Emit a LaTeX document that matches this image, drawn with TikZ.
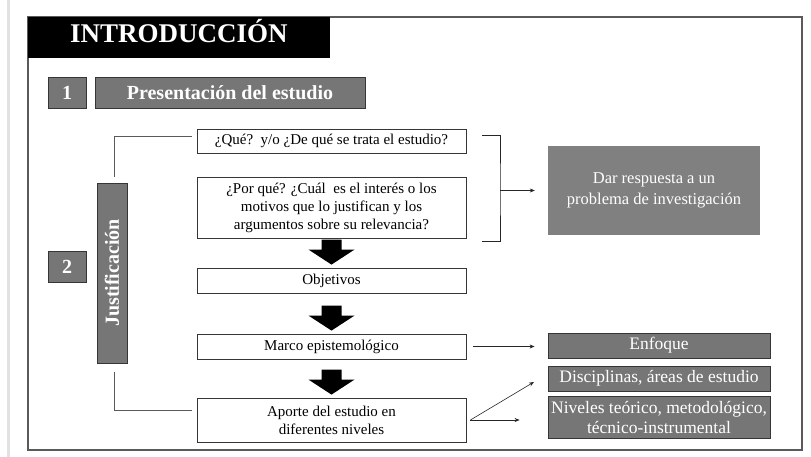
\documentclass[tikz,border=0pt]{standalone}
\usepackage{fontspec}
\setmainfont{Liberation Serif}
\usetikzlibrary{calc,arrows.meta}
\definecolor{boxgray}{HTML}{767676}
\definecolor{darkline}{HTML}{363636}
\definecolor{framegray}{HTML}{5A5A5A}
\definecolor{lightstrip}{HTML}{E2E2E2}
\definecolor{dargray}{HTML}{808080}
\newcommand\blkarrow[1]{\fill[black] ($(#1.north)+(0,-3)$) -- ++(-23,-15) -- ++(13,0) -- ++(0,-10) -- ++(20,0) -- ++(0,10) -- ++(13,0) -- cycle;}
\begin{document}
\begin{tikzpicture}[x=1pt,y=-1pt,
  graybox/.style={draw=darkline, line width=0.8pt, fill=boxgray, text=white, inner sep=0pt, font=\fontsize{20}{24}\selectfont\bfseries},
  whitebox/.style={draw=darkline, line width=0.8pt, fill=white, inner sep=0pt, align=center, minimum width=269pt, font=\fontsize{15}{18}\selectfont},
  rightbox/.style={draw=darkline, line width=0.8pt, fill=boxgray, text=white, inner sep=0pt, align=center, minimum width=222pt, font=\fontsize{17.5}{20}\selectfont},
  bracket/.style={draw=framegray, line width=0.9pt},
  rbracket/.style={draw=black!85, line width=0.9pt},
  arr/.style={draw=black!85, line width=0.6pt, -{Stealth[length=5pt,width=4pt]}}]
\useasboundingbox (0,0) rectangle (811,457);
\fill[lightstrip] (7,0) rectangle (10,457);
\node[draw=framegray, line width=1.5pt, minimum width=774pt, minimum height=433pt, inner sep=0pt] (frame) at (415,233.5) {};
\node[fill=black, minimum width=302pt, minimum height=41pt, inner sep=0pt, text height=18pt, text depth=7pt, text=white, font=\fontsize{27}{30}\selectfont\bfseries] (title) at (179,37.5) {INTRODUCCIÓN};
\node[graybox, minimum width=38pt, minimum height=31pt] (n1) at (67,92.5) {1};
\node[graybox, minimum width=270pt, minimum height=31pt] (pres) at (230,92.5) {Presentación del estudio};
\node[graybox, minimum width=38pt, minimum height=31pt] (n2) at (67,266.5) {2};
\node[graybox, rotate=90, minimum width=180pt, minimum height=30pt] (just) at (112,273) {Justificación};
\node[whitebox, minimum height=24pt] (que) at (331.5,141) {¿Qué?\ \ y/o ¿De qué se trata el estudio?};
\node[whitebox, minimum height=61pt] (por) at (331.5,207.5) {¿Por qué? ¿Cuál\ \ es el interés o los\\motivos que lo justifican y los\\argumentos sobre su relevancia?};
\node[whitebox, minimum height=25pt] (obj) at (331.5,280.5) {Objetivos};
\node[whitebox, minimum height=25pt] (marco) at (331.5,346.5) {Marco epistemológico};
\node[whitebox, minimum height=44pt] (aporte) at (331.5,420) {Aporte del estudio en\\diferentes niveles};
\node[fill=dargray, text=white, minimum width=212pt, minimum height=89pt, inner sep=0pt, align=center, font=\fontsize{16.5}{21}\selectfont] (dar) at (654,190.5) {Dar respuesta a un\\problema de investigación};
\node[rightbox, minimum height=25pt] (enf) at (659,345.5) {Enfoque};
\node[rightbox, minimum height=25pt] (disc) at (659,378.5) {Disciplinas, áreas de estudio};
\node[rightbox, minimum height=42pt] (niv) at (659,417) {Niveles teórico, metodológico,\\técnico-instrumental};
% brackets
\coordinate (jt) at (114,177);
\coordinate (qt) at (192,136);
\draw[bracket] (jt) |- (qt);
\coordinate (jb) at (114,372);
\coordinate (ab) at (192,410);
\draw[bracket] (jb) |- (ab);
\coordinate (rbt) at (482,135);
\coordinate (rbb) at (482,241);
\coordinate (rbm) at (500,190.5);
\draw[rbracket] (rbt) -| (rbm) |- (rbb);
\draw[arr] (rbm) -- ([xshift=-13pt]dar.west);
% block arrows
\blkarrow{obj}
\blkarrow{marco}
\blkarrow{aporte}
% right arrows
\draw[arr] ([xshift=7pt]marco.east) -- ([xshift=-13pt]enf.west |- marco.east);
\coordinate (ap) at ([xshift=4pt]aporte.east);
\coordinate (dt) at (534,382);
\draw[arr] (ap) -- (dt);
\draw[arr] (ap) -- ([xshift=-28pt]niv.west |- ap);
\end{tikzpicture}
\end{document}
